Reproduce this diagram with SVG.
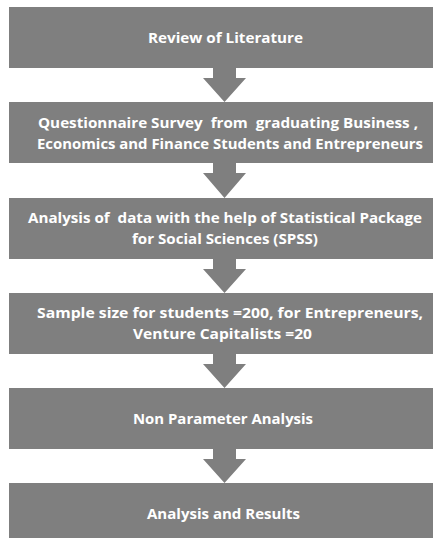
<svg xmlns="http://www.w3.org/2000/svg" width="433" height="538" viewBox="0 0 433 538">
  <style>
    .box { fill: #7f7f7f; }
    .arrow { fill: #7f7f7f; }
    .label { fill: #ffffff; font-family: "Open Sans", "Liberation Sans", sans-serif; font-weight: 700; font-size: 14.6px; text-anchor: middle; white-space: pre; }
  </style>
  <rect width="433" height="538" fill="#ffffff"/>

  <!-- process steps -->
  <g id="step-review">
    <rect class="box" x="9" y="7" width="430" height="61"/>
    <text class="label" x="225.5" y="43" textLength="155" lengthAdjust="spacingAndGlyphs">Review of Literature</text>
  </g>
  <g id="step-survey">
    <rect class="box" x="9" y="102" width="430" height="61"/>
    <text class="label" x="228" y="128" textLength="380" lengthAdjust="spacingAndGlyphs" xml:space="preserve">Questionnaire Survey  from  graduating Business ,</text>
    <text class="label" x="230" y="148.5" textLength="386" lengthAdjust="spacingAndGlyphs">Economics and Finance Students and Entrepreneurs</text>
  </g>
  <g id="step-spss">
    <rect class="box" x="9" y="198" width="430" height="61"/>
    <text class="label" x="225" y="223" textLength="394" lengthAdjust="spacingAndGlyphs" xml:space="preserve">Analysis of  data with the help of Statistical Package</text>
    <text class="label" x="225" y="243.5" textLength="186" lengthAdjust="spacingAndGlyphs">for Social Sciences (SPSS)</text>
  </g>
  <g id="step-sample">
    <rect class="box" x="9" y="293" width="430" height="61"/>
    <text class="label" x="230" y="318" textLength="386" lengthAdjust="spacingAndGlyphs">Sample size for students =200, for Entrepreneurs,</text>
    <text class="label" x="222.5" y="338.5" textLength="179" lengthAdjust="spacingAndGlyphs">Venture Capitalists =20</text>
  </g>
  <g id="step-nonparam">
    <rect class="box" x="9" y="388" width="430" height="61"/>
    <text class="label" x="223" y="423.5" textLength="180" lengthAdjust="spacingAndGlyphs">Non Parameter Analysis</text>
  </g>
  <g id="step-results">
    <rect class="box" x="9" y="483" width="430" height="61"/>
    <text class="label" x="223.5" y="518.5" textLength="153" lengthAdjust="spacingAndGlyphs">Analysis and Results</text>
  </g>

  <!-- block arrows between steps -->
  <g id="connectors">
    <polygon class="arrow" points="213,68 236,68 236,78 246,78 224.5,102 203,78 213,78"/>
    <polygon class="arrow" points="213,163 236,163 236,173 246,173 224.5,198 203,173 213,173"/>
    <polygon class="arrow" points="213,259 236,259 236,269 246,269 224.5,293 203,269 213,269"/>
    <polygon class="arrow" points="213,354 236,354 236,364 246,364 224.5,388 203,364 213,364"/>
    <polygon class="arrow" points="213,449 236,449 236,459 246,459 224.5,483 203,459 213,459"/>
  </g>
</svg>
